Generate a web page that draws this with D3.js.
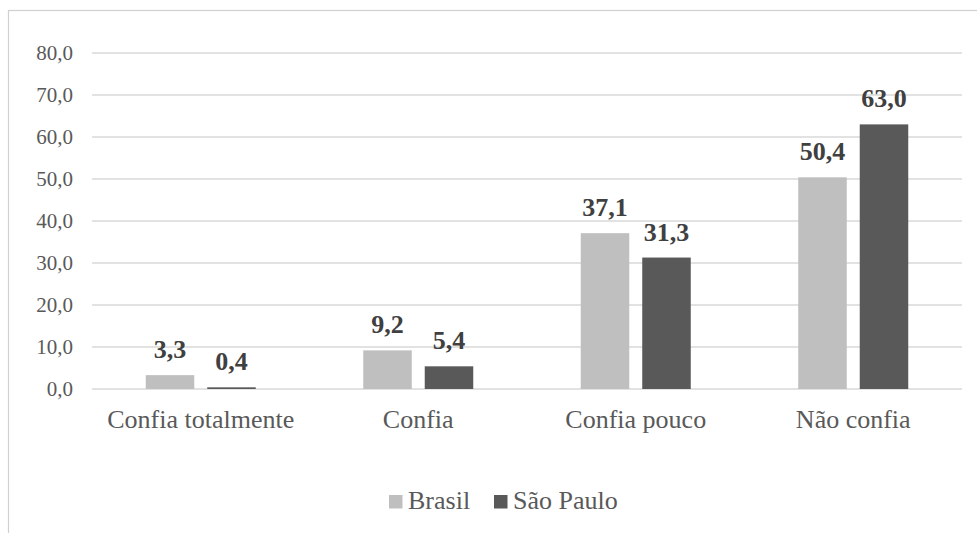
<!DOCTYPE html>
<html><head><meta charset="utf-8">
<script src="https://cdn.jsdelivr.net/npm/d3@7/dist/d3.min.js"></script>
<style>body{margin:0;background:#fff}svg{display:block}</style>
</head><body>
<svg id="c" width="977" height="533"></svg>
<script>
const categories = ["Confia totalmente", "Confia", "Confia pouco", "Não confia"];
const series = ["Brasil", "São Paulo"];
const brasil = [3.3, 9.2, 37.1, 50.4];
const saoPaulo = [0.4, 5.4, 31.3, 63.0];
const ticks = [0, 10, 20, 30, 40, 50, 60, 70, 80];
const colors = ["#bfbfbf", "#595959"];

const FONT = "Liberation Serif";
const svg = d3.select("#c");
const fmt = v => d3.format(".1f")(v).replace(".", ",");

svg.append("rect").attr("x", 8.5).attr("y", 10.5).attr("width", 1000).attr("height", 600)
  .attr("fill", "none").attr("stroke", "#d0d0d0").attr("stroke-width", 1.2);

const x0 = d3.scaleBand().domain(categories).range([92, 962]);
const y = d3.scaleLinear().domain([0, 80]).range([389, 53]);

const g = svg.append("g");
g.selectAll("line.grid").data(ticks).join("line")
  .attr("x1", 92).attr("x2", 962).attr("y1", d => y(d)).attr("y2", d => y(d))
  .attr("stroke", "#d9d9d9").attr("stroke-width", 1.5);

g.selectAll("text.tick").data(ticks).join("text")
  .attr("x", 73).attr("y", d => y(d)).attr("dy", "0.33em")
  .attr("text-anchor", "end").style("font-family", FONT).style("font-size", "21px")
  .attr("fill", "#595959").text(d => fmt(d));

const data = categories.map((c, i) => ({c, vals: [brasil[i], saoPaulo[i]]}));
const groups = g.selectAll("g.cat").data(data).join("g");
groups.each(function(d) {
  const c = x0(d.c) + x0.bandwidth() / 2;
  const x1 = d3.scaleBand().domain(series).range([c - 55, c + 55]).paddingInner(0.211);
  const sel = d3.select(this);
  const items = series.map((s, j) => ({s, v: d.vals[j], j}));
  sel.selectAll("rect").data(items).join("rect")
    .attr("x", e => x1(e.s)).attr("width", x1.bandwidth())
    .attr("y", e => y(e.v)).attr("height", e => y(0) - y(e.v))
    .attr("fill", e => colors[e.j]);
  sel.selectAll("text").data(items).join("text")
    .attr("x", e => x1(e.s) + x1.bandwidth() / 2).attr("y", e => y(e.v) - 17)
    .attr("text-anchor", "middle").style("font-family", FONT).style("font-size", "26px")
    .style("font-weight", "bold").attr("fill", "#404040").text(e => fmt(e.v));
  sel.append("text").attr("x", c).attr("y", 428).attr("text-anchor", "middle")
    .style("font-family", FONT).style("font-size", "26px").attr("fill", "#595959").text(d.c);
});

const legend = svg.append("g");
const lx = [389, 494];
series.forEach((s, j) => {
  legend.append("rect").attr("x", lx[j]).attr("y", 495).attr("width", 13.5).attr("height", 13.5).attr("fill", colors[j]);
  legend.append("text").attr("x", lx[j] + 19).attr("y", 509)
    .style("font-family", FONT).style("font-size", "26px").attr("fill", "#595959").text(s);
});
</script>
</body></html>
